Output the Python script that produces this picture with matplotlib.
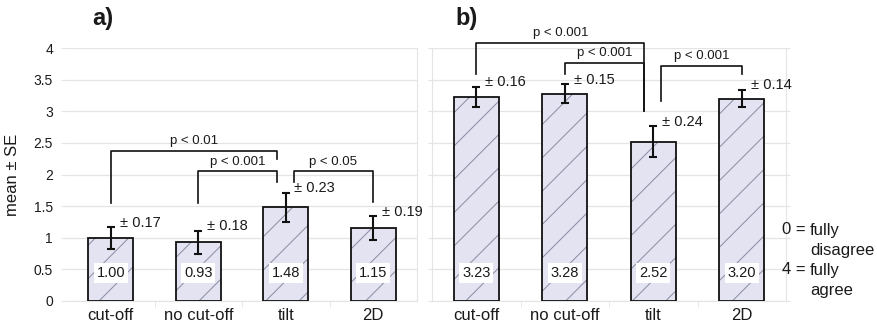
import matplotlib
matplotlib.use("Agg")
import matplotlib.pyplot as plt

plt.rcParams["font.family"] = ["Liberation Sans", "DejaVu Sans"]
plt.rcParams["hatch.linewidth"] = 0.7

categories = ["cut-off", "no cut-off", "tilt", "2D"]
means_a = [1.00, 0.93, 1.48, 1.15]
se_a = [0.17, 0.18, 0.23, 0.19]
means_b = [3.23, 3.28, 2.52, 3.20]
se_b = [0.16, 0.15, 0.24, 0.14]

# (left bar, right bar, bracket height, left leg bottom, right leg bottom, label)
brackets_a = [
    (0, 2, 2.37, 1.55, 2.24, "p < 0.01"),
    (1, 2, 2.05, 1.55, 1.88, "p < 0.001"),
    (2, 3, 2.05, 1.88, 1.57, "p < 0.05"),
]
brackets_b = [
    (0, 2, 4.08, 3.59, 3.01, "p < 0.001"),
    (1, 2, 3.77, 3.59, 3.01, "p < 0.001"),
    (2, 3, 3.72, 3.16, 3.59, "p < 0.001"),
]
yticks = [0, 0.5, 1, 1.5, 2, 2.5, 3, 3.5, 4]
ytick_labels = ["0", "0.5", "1", "1.5", "2", "2.5", "3", "3.5", "4"]

TXT = "#1a1a1a"
GRID = "#e4e4e4"
FACE = "#e3e3f1"
HATCH = "#8a8aa4"


def draw_panel(ax, means, ses, brackets):
    x = list(range(len(categories)))
    ax.set_xlim(-0.5, len(categories) - 0.5)
    ax.set_ylim(0, 4)
    ax.set_yticks(yticks)
    ax.grid(axis="y", color=GRID, linewidth=0.9)
    ax.set_axisbelow(True)

    # hatched fill, then black outline on top
    ax.bar(x, means, width=0.51, color=FACE, edgecolor=HATCH, hatch="/", linewidth=0, zorder=2)
    ax.bar(x, means, width=0.51, color="none", edgecolor="#111111", linewidth=1.3, zorder=3)
    ax.errorbar(x, means, yerr=ses, fmt="none", ecolor="#111111", elinewidth=1.5,
                capsize=3, capthick=1.5, zorder=4)

    for xi, m, s in zip(x, means, ses):
        ax.text(xi, 0.44, f"{m:.2f}", ha="center", va="center", fontsize=10.5, color=TXT, zorder=5,
                bbox=dict(boxstyle="square,pad=0.2", facecolor="white", edgecolor="none"))
        ax.text(xi + 0.1, m + s + 0.07, f"\u00b1 {s:.2f}", ha="left", va="center",
                fontsize=10.5, color=TXT, zorder=5)

    # legs landing on "tilt" sit a little to either side of its centre
    for i, j, h, yl, yr, label in brackets:
        xl = i + 0.09 if i == 2 else i
        xr = j - 0.1 if j == 2 else j
        ax.plot([xl, xl, xr, xr], [yl, h, h, yr], color="#111111", linewidth=1.2,
                clip_on=False, zorder=5)
        ax.text((xl + xr) / 2, h + 0.06, label, ha="center", va="bottom", fontsize=9.5, color=TXT)

    ax.set_xticks(x)
    ax.set_xticklabels(categories, fontsize=12, color=TXT)
    ax.tick_params(axis="x", length=0, pad=5)
    ax.set_xticks([i + 0.5 for i in x[:-1]], minor=True)
    ax.tick_params(axis="x", which="minor", length=4, color=GRID)
    for side in ["top", "left", "right", "bottom"]:
        ax.spines[side].set_color(GRID)
    ax.spines["top"].set_visible(False)


fig = plt.figure(figsize=(8.77, 3.24), dpi=100)
ax_a = fig.add_axes([67 / 877, 1 - 301 / 324, 350 / 877, 253 / 324])
ax_b = fig.add_axes([432 / 877, 1 - 301 / 324, 354 / 877, 253 / 324])

draw_panel(ax_a, means_a, se_a, brackets_a)
draw_panel(ax_b, means_b, se_b, brackets_b)

ax_a.spines["left"].set_visible(False)
ax_a.set_yticklabels(ytick_labels, fontsize=10, color=TXT)
ax_a.tick_params(axis="y", length=4, color=GRID, pad=6)
ax_a.set_ylabel("mean \u00b1 SE", fontsize=12, color=TXT, labelpad=10)

ax_b.tick_params(axis="y", left=True, right=True, length=3, color=GRID, labelleft=False)

fig.text(92 / 877, 1 - 18 / 324, "a)", fontsize=17, fontweight="bold", color=TXT, va="center")
fig.text(455 / 877, 1 - 18 / 324, "b)", fontsize=17, fontweight="bold", color=TXT, va="center")

# scale legend on the right
for y_px, left, right in [(230, "0 =", "fully"), (250, "", "disagree"),
                          (270, "4 =", "fully"), (290, "", "agree")]:
    if left:
        fig.text(782 / 877, 1 - y_px / 324, left, fontsize=12, color=TXT, va="center")
    fig.text(810 / 877, 1 - y_px / 324, right, fontsize=12, color=TXT, va="center")

fig.savefig("out.png", dpi=100, facecolor="white")
